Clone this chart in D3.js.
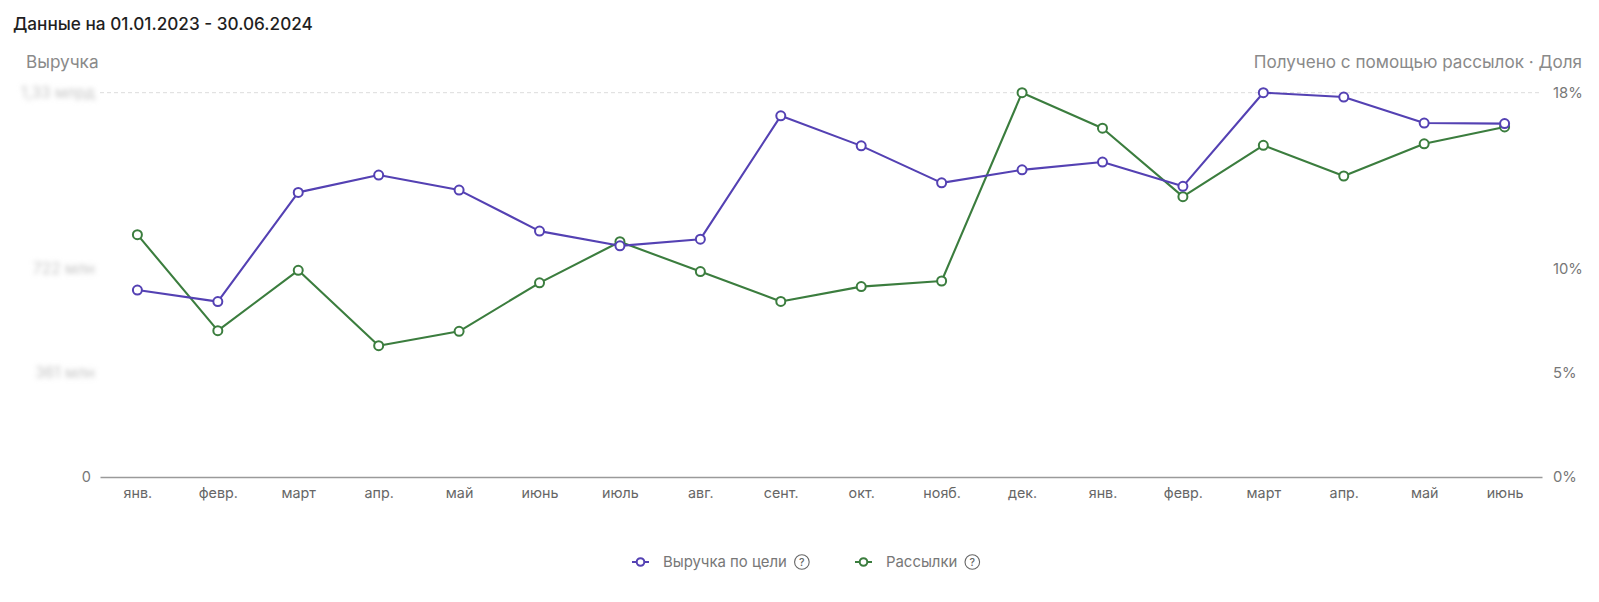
<!DOCTYPE html>
<html><head><meta charset="utf-8">
<script src="https://cdn.jsdelivr.net/npm/d3@7/dist/d3.min.js"></script>
<style>
html,body{margin:0;padding:0;background:#fff;}
svg{display:block;font-family:Inter, "Noto Sans", sans-serif;}
</style></head>
<body><svg id="chart" width="1599" height="602"></svg>
<script>
const months = ["янв.","февр.","март","апр.","май","июнь","июль","авг.","сент.","окт.","нояб.","дек.","янв.","февр.","март","апр.","май","июнь"];
// Выручка по цели, млн
const revenue = [647,607,985,1045,993,851,800,823,1250,1146,1018,1063,1090,1006,1330,1315,1225,1223];
// Рассылки, доля %
const mailShare = [11.61,7.01,9.90,6.29,6.98,9.30,11.27,9.84,8.41,9.12,9.39,18.41,16.71,13.43,15.89,14.42,15.96,16.77];
const leftTicks = [0,361,722,1330];
const leftTickLabels = ["0","361 млн","722 млн","1,33 млрд"];
const rightTicks = [0,5,10,18.41];
const rightTickLabels = ["0%","5%","10%","18%"];
const seriesNames = ["Выручка по цели","Рассылки"];
const colors = ["#5441b3","#3b7d3e"];

(function(){
const svg = d3.select("#chart");
const mLeft = 100, mRight = 1542, mTop = 92.7, mBottom = 477;

const x = d3.scalePoint().domain(d3.range(months.length)).range([mLeft,mRight]).padding(0.465);
const yL = d3.scaleLinear().domain([0,d3.max(revenue)]).range([mBottom,mTop]);
const yR = d3.scaleLinear().domain([0,d3.max(mailShare)]).range([mBottom,mTop]);

const defs = svg.append("defs");
defs.append("filter").attr("id","blur").attr("x","-20%").attr("y","-60%").attr("width","140%").attr("height","220%")
  .append("feGaussianBlur").attr("stdDeviation",2.8);

// titles
svg.append("text").attr("x",13).attr("y",29.5).attr("font-size",17.2).attr("font-weight",500).attr("fill","#1f1f1f")
  .text("Данные на 01.01.2023 - 30.06.2024");
svg.append("text").attr("x",26).attr("y",68).attr("font-size",17.2).attr("fill","#8a8a8a").text("Выручка");
svg.append("text").attr("x",1582).attr("y",67.5).attr("text-anchor","end").attr("font-size",17.1).attr("fill","#8a8a8a")
  .text("Получено с помощью рассылок · Доля");

// top dashed gridline
svg.append("line").attr("x1",mLeft).attr("x2",mRight).attr("y1",yR(d3.max(mailShare))).attr("y2",yR(d3.max(mailShare)))
  .attr("stroke","#dcdcdc").attr("stroke-dasharray","4,3").attr("stroke-width",1);

// left axis
const gL = svg.append("g").attr("transform",`translate(${mLeft-5},0)`)
  .call(d3.axisLeft(yL).tickValues(leftTicks).tickSize(0).tickPadding(0).tickFormat((d,i)=>leftTickLabels[i]));
gL.select(".domain").remove();
gL.selectAll("text").attr("font-family","Inter, sans-serif").attr("font-size",15.5).attr("fill","#c4c4c4")
  .attr("filter",(d,i)=> i===0 ? null : "url(#blur)");
gL.selectAll("text").filter((d,i)=>i===0).attr("fill","#777").attr("dx",-4).attr("font-size",14.5);

// right axis
const gR = svg.append("g").attr("transform",`translate(${mRight+11},0)`)
  .call(d3.axisRight(yR).tickValues(rightTicks).tickSize(0).tickPadding(0).tickFormat((d,i)=>rightTickLabels[i]));
gR.select(".domain").remove();
gR.selectAll("text").attr("font-family","Inter, sans-serif").attr("font-size",14.8).attr("fill","#777");

// x axis
const gX = svg.append("g").attr("transform",`translate(0,${mBottom})`)
  .call(d3.axisBottom(x).tickSize(0).tickPadding(11).tickFormat(i=>months[i]));
gX.select(".domain").attr("stroke","#9a9a9a").attr("stroke-width",1.6);
gX.selectAll("text").attr("font-family","Inter, sans-serif").attr("font-size",14.3).attr("fill","#666");

function drawSeries(vals, y, color){
  const line = d3.line().x((d,i)=>x(i)).y(d=>y(d));
  svg.append("path").datum(vals).attr("d",line).attr("fill","none").attr("stroke",color).attr("stroke-width",2.1).attr("stroke-linejoin","round");
  svg.append("g").selectAll("circle").data(vals).join("circle")
    .attr("cx",(d,i)=>x(i)).attr("cy",d=>y(d)).attr("r",4.5)
    .attr("fill","#fff").attr("stroke",color).attr("stroke-width",2);
}
drawSeries(mailShare, yR, colors[1]);
drawSeries(revenue, yL, colors[0]);

// legend
const legendItems = [{name:seriesNames[0],color:colors[0],x:632},{name:seriesNames[1],color:colors[1],x:855}];
const ly = 562;
legendItems.forEach(it=>{
  const g = svg.append("g").attr("transform",`translate(${it.x},${ly})`);
  g.append("line").attr("x1",0).attr("x2",17).attr("y1",0).attr("y2",0).attr("stroke",it.color).attr("stroke-width",2);
  g.append("circle").attr("cx",8.5).attr("cy",0).attr("r",3.8).attr("fill","#fff").attr("stroke",it.color).attr("stroke-width",2);
  const t = g.append("text").attr("x",31).attr("y",5.2).attr("font-size",14.9).attr("fill","#777").text(it.name);
  const w = t.node().getComputedTextLength();
  const q = g.append("g").attr("transform",`translate(${31+w+15},0)`);
  q.append("circle").attr("r",7.3).attr("fill","none").attr("stroke","#666").attr("stroke-width",1.1);
  q.append("text").attr("y",4).attr("text-anchor","middle").attr("font-size",10.5).attr("font-weight",500).attr("fill","#666").text("?");
});
})();
</script></body></html>
